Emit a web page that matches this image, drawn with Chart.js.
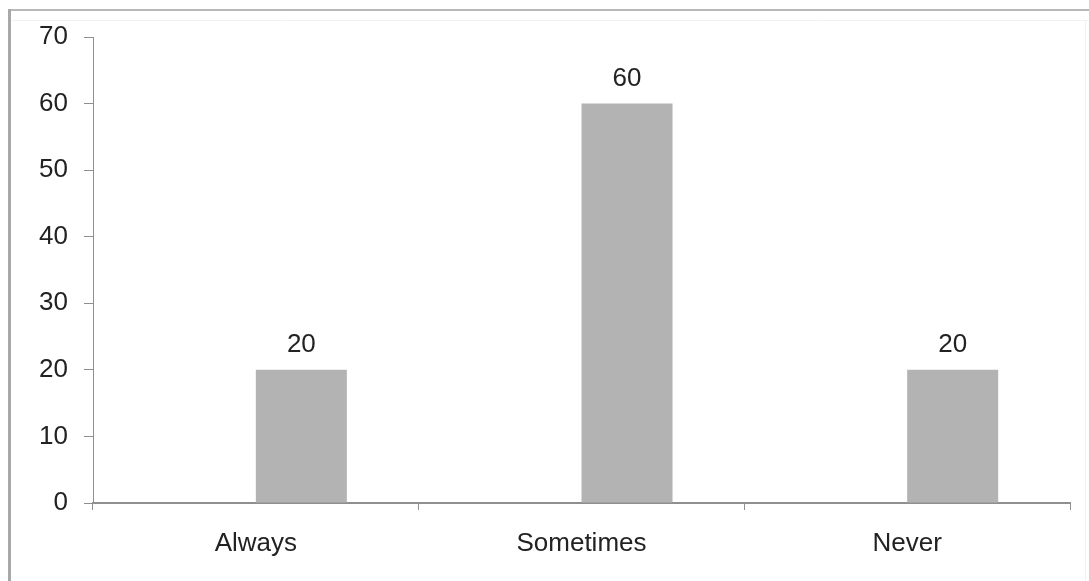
<!DOCTYPE html>
<html>
<head>
<meta charset="utf-8">
<script src="https://cdn.jsdelivr.net/npm/chart.js@4.4.1/dist/chart.umd.min.js"></script>
<style>
  html, body { margin: 0; padding: 0; background: #ffffff; }
  #wrap { width: 1089px; height: 581px; position: relative; }
</style>
</head>
<body>
<div id="wrap"><canvas id="c" width="1089" height="581"></canvas></div>
<script>
const categories = ['Always', 'Sometimes', 'Never'];
const responses = [20, 60, 20];
const yTicks = [0, 10, 20, 30, 40, 50, 60, 70];

const AXIS = '#8f8f8f';
const TEXT = '#222222';
const FONT = "'Liberation Sans', Arial, sans-serif";

// Outer frame around the figure
const framePlugin = {
  id: 'frame',
  beforeDraw(chart) {
    const ctx = chart.ctx;
    ctx.save();
    ctx.fillStyle = '#ffffff';
    ctx.fillRect(0, 0, chart.width, chart.height);
    ctx.strokeStyle = '#b8b8b8';
    ctx.lineWidth = 2;
    ctx.beginPath();
    ctx.moveTo(8, 10);
    ctx.lineTo(chart.width, 10);
    ctx.stroke();
    ctx.strokeStyle = '#f2f2f2';
    ctx.lineWidth = 1;
    ctx.beginPath();
    ctx.moveTo(11, 20.5);
    ctx.lineTo(chart.width, 20.5);
    ctx.moveTo(1085.5, 20);
    ctx.lineTo(1085.5, chart.height);
    ctx.stroke();
    ctx.strokeStyle = '#a8a8a8';
    ctx.lineWidth = 3;
    ctx.beginPath();
    ctx.moveTo(9.5, 9);
    ctx.lineTo(9.5, chart.height);
    ctx.stroke();
    ctx.restore();
  }
};

// Value labels above each bar
const valueLabels = {
  id: 'valueLabels',
  afterDatasetsDraw(chart) {
    const ctx = chart.ctx;
    const meta = chart.getDatasetMeta(1);
    ctx.save();
    ctx.fillStyle = TEXT;
    ctx.font = '26px ' + FONT;
    ctx.textAlign = 'center';
    ctx.textBaseline = 'alphabetic';
    meta.data.forEach((bar, i) => {
      ctx.fillText(String(responses[i]), bar.x, bar.y - 18);
    });
    ctx.restore();
  }
};

new Chart(document.getElementById('c'), {
  type: 'bar',
  data: {
    labels: categories,
    datasets: [
      // empty leading series: keeps its slot in each group
      { data: [], backgroundColor: 'rgba(0,0,0,0)', borderWidth: 0,
        barPercentage: 1.0, categoryPercentage: 0.559 },
      { data: responses, backgroundColor: '#b3b3b3', borderWidth: 0,
        barPercentage: 1.0, categoryPercentage: 0.559 }
    ]
  },
  options: {
    responsive: false,
    animation: false,
    devicePixelRatio: 1,
    layout: { padding: { left: 0, top: 37, right: 19, bottom: 0 } },
    plugins: {
      legend: { display: false },
      tooltip: { enabled: false }
    },
    scales: {
      x: {
        offset: true,
        grid: {
          offset: true,
          drawOnChartArea: false,
          drawTicks: true,
          tickLength: 7,
          color: AXIS,
          lineWidth: 1
        },
        border: { display: true, color: AXIS, width: 2 },
        ticks: {
          color: TEXT,
          font: { family: FONT, size: 26 },
          padding: 18,
          maxRotation: 0
        },
        afterFit(scale) { scale.height = 78; }
      },
      y: {
        min: 0,
        max: 70,
        afterBuildTicks(scale) { scale.ticks = yTicks.map(v => ({ value: v })); },
        grid: {
          drawOnChartArea: false,
          drawTicks: true,
          tickLength: 9,
          color: AXIS,
          lineWidth: 1
        },
        border: { display: true, color: AXIS, width: 1 },
        ticks: {
          color: TEXT,
          font: { family: FONT, size: 26 },
          padding: 16
        },
        afterFit(scale) { scale.width = 93; }
      }
    }
  },
  plugins: [framePlugin, valueLabels]
});
</script>
</body>
</html>
